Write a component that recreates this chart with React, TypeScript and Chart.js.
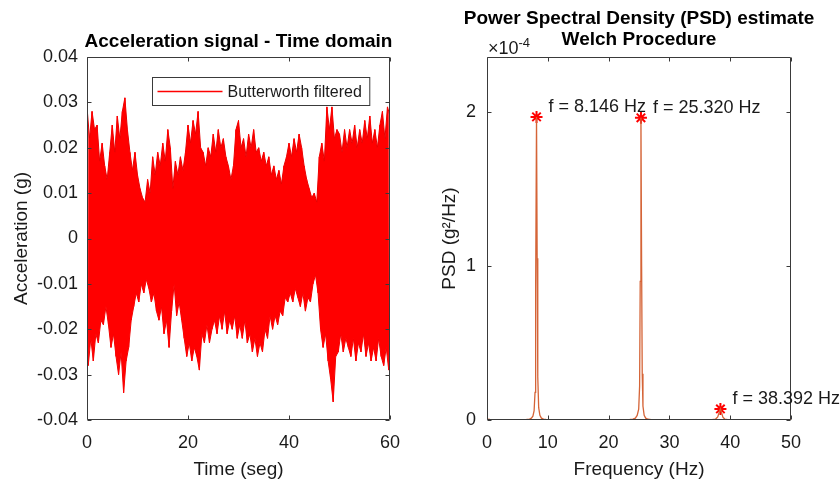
import React, { useEffect, useRef } from 'react';
import { Chart, registerables } from 'chart.js';

Chart.register(...registerables);

const FONT = "'Liberation Sans', Arial, Helvetica, sans-serif";
const TEXT = '#1a1a1a';
const AXIS = '#3a3a3a';

// ---- Time-domain signal: alternating local maxima / minima ----
const signalStep = 0.25; // s between a maximum and the next minimum
const upperPeaks = [
  0.029, 0.022, 0.028, 0.024, 0.025, 0.017, 0.021, 0.016, 0.013, 0.019, // 0 - 4.5 s
  0.025, 0.019, 0.027, 0.022, 0.028, 0.031, 0.024, 0.019, 0.015, 0.019, // 5 - 9.5
  0.014, 0.011, 0.009, 0.008, 0.013, 0.010, 0.018, 0.014, 0.019, 0.016, // 10 - 14.5
  0.021, 0.017, 0.024, 0.020, 0.011, 0.017, 0.014, 0.018, 0.015, 0.019, // 15 - 19.5
  0.025, 0.021, 0.026, 0.023, 0.028, 0.020, 0.019, 0.016, 0.020, 0.018, // 20 - 24.5
  0.023, 0.019, 0.024, 0.020, 0.022, 0.018, 0.016, 0.013, 0.016, 0.024, // 25 - 29.5
  0.026, 0.020, 0.022, 0.018, 0.023, 0.020, 0.024, 0.019, 0.020, 0.017, // 30 - 34.5
  0.019, 0.016, 0.018, 0.014, 0.016, 0.013, 0.015, 0.012, 0.016, 0.018, // 35 - 39.5
  0.021, 0.018, 0.022, 0.019, 0.023, 0.020, 0.016, 0.013, 0.011, 0.009, // 40 - 44.5
  0.010, 0.008, 0.018, 0.021, 0.017, 0.029, 0.024, 0.029, 0.022, 0.024, // 45 - 49.5
  0.023, 0.019, 0.024, 0.020, 0.024, 0.021, 0.025, 0.020, 0.024, 0.021, // 50 - 54.5
  0.026, 0.022, 0.027, 0.021, 0.024, 0.020, 0.025, 0.028, 0.022, 0.029, // 55 - 59.5
  0.027, // 60
];
const lowerPeaks = [
  -0.028, -0.022, -0.027, -0.021, -0.023, -0.018, -0.019, -0.015, -0.019, -0.024,
  -0.021, -0.026, -0.030, -0.025, -0.034, -0.027, -0.024, -0.018, -0.015, -0.012, // 0.25 - 9.75 s
  -0.014, -0.010, -0.012, -0.009, -0.011, -0.014, -0.012, -0.016, -0.018, -0.015,
  -0.021, -0.018, -0.024, -0.016, -0.010, -0.017, -0.014, -0.018, -0.022, -0.026, // 10.25 - 19.75
  -0.023, -0.027, -0.024, -0.026, -0.029, -0.021, -0.023, -0.019, -0.023, -0.020,
  -0.018, -0.021, -0.017, -0.020, -0.016, -0.021, -0.018, -0.020, -0.017, -0.022, // 20.25 - 29.75
  -0.019, -0.022, -0.018, -0.023, -0.021, -0.025, -0.022, -0.026, -0.023, -0.025,
  -0.020, -0.022, -0.017, -0.020, -0.017, -0.019, -0.016, -0.017, -0.013, -0.014, // 30.25 - 39.75
  -0.012, -0.014, -0.011, -0.013, -0.015, -0.012, -0.016, -0.013, -0.014, -0.010,
  -0.008, -0.012, -0.020, -0.024, -0.021, -0.027, -0.031, -0.036, -0.026, -0.025, // 40.25 - 49.75
  -0.021, -0.025, -0.022, -0.024, -0.026, -0.022, -0.027, -0.023, -0.025, -0.021,
  -0.026, -0.023, -0.027, -0.024, -0.027, -0.022, -0.026, -0.028, -0.024, -0.029, // 50.25 - 59.75
];
const timeTicks = [0, 20, 40, 60];
const accelTicks = [-0.04, -0.03, -0.02, -0.01, 0, 0.01, 0.02, 0.03, 0.04];

// ---- Welch PSD (values in units of 1e-4 g^2/Hz) ----
const freqHz = [
  0, 0.5, 1, 1.5, 2, 3, 4, 5, 6, 6.5,
  7, 7.3, 7.55, 7.75, 7.9, 8.0, 8.146, 8.25, 8.35, 8.5,
  8.7, 8.95, 9.3, 9.7, 10.5, 11.5, 12.5, 13.5, 14.5, 15.5,
  16.5, 17.5, 18.5, 19.5, 20.5, 21.5, 22.5, 23.5, 24.0, 24.4,
  24.7, 24.95, 25.1, 25.2, 25.32, 25.43, 25.53, 25.65, 25.85, 26.1,
  26.5, 27, 28, 29, 30, 31, 32, 33, 34, 35,
  36, 37, 37.6, 37.95, 38.2, 38.392, 38.6, 38.8, 39.1, 39.6,
  40.5, 41.5, 42.5, 43.5, 44.5, 45.5, 46.5, 47.5, 48.5, 49.5,
  50,
];
const psdE4 = [
  0.006, 0.004, 0.003, 0.002, 0.003, 0.002, 0.003, 0.002, 0.003, 0.004,
  0.006, 0.012, 0.025, 0.06, 0.18, 0.85, 1.968, 1.05, 0.28, 0.08,
  0.03, 0.012, 0.006, 0.004, 0.003, 0.002, 0.003, 0.002, 0.003, 0.002,
  0.003, 0.002, 0.003, 0.002, 0.003, 0.002, 0.003, 0.004, 0.006, 0.012,
  0.03, 0.07, 0.22, 0.9, 1.962, 1.0, 0.3, 0.09, 0.03, 0.012,
  0.005, 0.003, 0.002, 0.003, 0.002, 0.003, 0.002, 0.003, 0.002, 0.003,
  0.002, 0.003, 0.006, 0.02, 0.05, 0.072, 0.045, 0.018, 0.006, 0.003,
  0.002, 0.003, 0.002, 0.003, 0.002, 0.003, 0.002, 0.003, 0.002, 0.003,
  0.002,
];
const peakFreqs = [8.146, 25.32, 38.392];
const peakPsdE4 = [1.968, 1.962, 0.072];
const freqTicks = [0, 10, 20, 30, 40, 50];
const psdTicks = [0, 1, 2];

const leftTitle = ['Acceleration signal - Time domain'];
const rightTitle = ['Power Spectral Density (PSD) estimate', 'Welch Procedure'];

const font = (size: number, weight: any = 'normal') => ({ family: FONT, size, weight, lineHeight: 1.2 });

const framePlugin = {
  id: 'frame',
  afterDatasetsDraw(chart: any) {
    const { ctx, chartArea: a, scales } = chart;
    const L = Math.round(a.left) + 0.5, R = Math.round(a.right) - 0.5;
    const T = Math.round(a.top) + 0.5, B = Math.round(a.bottom) - 0.5;
    const len = 4;
    ctx.save();
    ctx.strokeStyle = AXIS;
    ctx.lineWidth = 1;
    ctx.beginPath();
    ctx.rect(L, T, R - L, B - T);
    scales.x.ticks.forEach((t: any) => {
      const x = Math.round(scales.x.getPixelForValue(t.value)) + 0.5;
      ctx.moveTo(x, B); ctx.lineTo(x, B - len);
      ctx.moveTo(x, T); ctx.lineTo(x, T + len);
    });
    scales.y.ticks.forEach((t: any) => {
      const y = Math.round(scales.y.getPixelForValue(t.value)) + 0.5;
      ctx.moveTo(L, y); ctx.lineTo(L + len, y);
      ctx.moveTo(R, y); ctx.lineTo(R - len, y);
    });
    ctx.stroke();
    ctx.restore();
  },
};

// Title centred over the plot box (MATLAB style)
const axesTitlePlugin = {
  id: 'axesTitle',
  afterDraw(chart: any, _args: any, opts: any) {
    const { ctx, chartArea: a } = chart;
    const lines: string[] = opts.lines || [];
    const gap = opts.gap ?? 15;
    const spacing = opts.spacing ?? 22;
    ctx.save();
    ctx.fillStyle = '#000';
    ctx.textAlign = 'center';
    ctx.textBaseline = 'middle';
    ctx.font = `bold 19px ${FONT}`;
    const cx = (a.left + a.right) / 2;
    const lastY = a.top - gap;
    lines.forEach((ln, i) => {
      ctx.fillText(ln, cx, lastY - (lines.length - 1 - i) * spacing);
    });
    ctx.restore();
  },
};

const legendPlugin = {
  id: 'boxLegend',
  afterDraw(chart: any) {
    const { ctx, chartArea: a } = chart;
    const ds = chart.data.datasets[0];
    ctx.save();
    ctx.font = `16px ${FONT}`;
    const tw = ctx.measureText(ds.label).width;
    const w = 5 + 65 + 5 + tw + 8;
    const h = 28;
    const x1 = Math.round(a.right - 21 - w) + 0.5;
    const y1 = Math.round(a.top + 20) + 0.5;
    ctx.fillStyle = '#fff';
    ctx.fillRect(x1, y1, w, h);
    ctx.strokeStyle = AXIS;
    ctx.lineWidth = 1;
    ctx.strokeRect(x1, y1, w, h);
    ctx.strokeStyle = '#ff0000';
    ctx.lineWidth = 1.5;
    ctx.beginPath();
    ctx.moveTo(x1 + 5, y1 + h / 2);
    ctx.lineTo(x1 + 70, y1 + h / 2);
    ctx.stroke();
    ctx.fillStyle = TEXT;
    ctx.textBaseline = 'middle';
    ctx.textAlign = 'left';
    ctx.fillText(ds.label, x1 + 75, y1 + h / 2 + 1);
    ctx.restore();
  },
};

const peakLabelPlugin = {
  id: 'peakLabels',
  afterDraw(chart: any) {
    const { ctx, scales, chartArea: a } = chart;
    ctx.save();
    ctx.fillStyle = TEXT;
    ctx.textAlign = 'left';
    ctx.textBaseline = 'middle';
    ctx.font = `18px ${FONT}`;
    peakFreqs.forEach((f, i) => {
      const x = scales.x.getPixelForValue(f) + 12;
      const y = scales.y.getPixelForValue(peakPsdE4[i]) - 10;
      ctx.fillText(`f = ${f.toFixed(3)} Hz`, x, y);
    });
    // exponent multiplier
    ctx.font = `18px ${FONT}`;
    const base = '\u00d710';
    ctx.fillText(base, a.left + 1, a.top - 8);
    const bw = ctx.measureText(base).width;
    ctx.font = `13px ${FONT}`;
    ctx.fillText('-4', a.left + 1 + bw, a.top - 14);
    ctx.restore();
  },
};

function TimeChart() {
  const ref = useRef<HTMLCanvasElement>(null);
  useEffect(() => {
    const upperPts = upperPeaks.map((v, i) => ({ x: 2 * i * signalStep, y: v }));
    const lowerPts = lowerPeaks.map((v, i) => ({ x: (2 * i + 1) * signalStep, y: v }));
    const zigzag: { x: number; y: number }[] = [];
    for (let i = 0; i < upperPts.length; i++) {
      zigzag.push(upperPts[i]);
      if (i < lowerPts.length) zigzag.push(lowerPts[i]);
    }
    const chart = new Chart(ref.current!, {
      type: 'line',
      data: {
        datasets: [
          {
            label: 'Butterworth filtered',
            data: zigzag,
            borderColor: '#ff0000',
            borderWidth: 1,
            pointRadius: 0,
            tension: 0,
            fill: false,
          },
          {
            label: 'upper',
            data: upperPts,
            borderColor: '#e80000',
            backgroundColor: '#ff0000',
            borderWidth: 1,
            pointRadius: 0,
            tension: 0,
            fill: '+1',
          },
          {
            label: 'lower',
            data: lowerPts,
            borderColor: '#e80000',
            borderWidth: 1,
            pointRadius: 0,
            tension: 0,
            fill: false,
          },
        ],
      },
      options: {
        animation: false,
        responsive: false,
        devicePixelRatio: 1,
        layout: { padding: { left: 0, right: 30, top: 57, bottom: 0 } },
        plugins: {
          legend: { display: false },
          tooltip: { enabled: false },
          title: { display: false },
          axesTitle: { lines: leftTitle, gap: 15, spacing: 22 },
        },
        scales: {
          x: {
            type: 'linear',
            min: 0,
            max: 60,
            afterBuildTicks: (s: any) => { s.ticks = timeTicks.map((v) => ({ value: v })); },
            afterFit: (s: any) => { s.height = 63; },
            ticks: { font: font(18), color: TEXT, padding: 12, maxRotation: 0, autoSkip: false, callback: (v: any) => String(v) },
            grid: { display: false, drawTicks: false },
            border: { display: false },
            title: { display: true, text: 'Time (seg)', font: font(19), color: TEXT, padding: { top: 0, bottom: 1.6 } },
          },
          y: {
            type: 'linear',
            min: -0.04,
            max: 0.04,
            afterBuildTicks: (s: any) => { s.ticks = accelTicks.map((v) => ({ value: v })); },
            afterFit: (s: any) => { s.width = 87; },
            ticks: {
              font: font(18),
              color: TEXT,
              padding: 9,
              autoSkip: false,
              callback: (v: any) => {
                const r = Math.round(v * 100) / 100;
                return r === 0 ? '0' : r.toFixed(2);
              },
            },
            grid: { display: false, drawTicks: false },
            border: { display: false },
            title: { display: true, text: 'Acceleration (g)', font: font(19), color: TEXT, padding: { top: 10.6, bottom: 0 } },
          },
        },
      } as any,
      plugins: [framePlugin, legendPlugin, axesTitlePlugin],
    });
    return () => chart.destroy();
  }, []);
  return <canvas ref={ref} width={420} height={483} style={{ position: 'absolute', left: 0, top: 0, width: 420, height: 483 }} />;
}

function PsdChart() {
  const ref = useRef<HTMLCanvasElement>(null);
  useEffect(() => {
    const chart = new Chart(ref.current!, {
      type: 'line',
      data: {
        datasets: [
          {
            label: 'PSD',
            data: freqHz.map((f, i) => ({ x: f, y: psdE4[i] })),
            borderColor: 'rgb(213,100,55)',
            borderWidth: 1.3,
            pointRadius: 0,
            tension: 0,
            fill: false,
          },
          {
            label: 'Peaks',
            data: peakFreqs.map((f, i) => ({ x: f, y: peakPsdE4[i] })),
            showLine: false,
            pointStyle: 'star',
            pointRadius: 6,
            borderColor: '#ff0000',
            backgroundColor: '#ff0000',
            pointBorderWidth: 2,
            borderWidth: 2,
          },
        ],
      },
      options: {
        animation: false,
        responsive: false,
        devicePixelRatio: 1,
        layout: { padding: { left: 0, right: 49, top: 57, bottom: 0 } },
        plugins: {
          legend: { display: false },
          tooltip: { enabled: false },
          title: { display: false },
          axesTitle: { lines: rightTitle, gap: 17, spacing: 21.7 },
        },
        scales: {
          x: {
            type: 'linear',
            min: 0,
            max: 50,
            afterBuildTicks: (s: any) => { s.ticks = freqTicks.map((v) => ({ value: v })); },
            afterFit: (s: any) => { s.height = 63; },
            ticks: { font: font(18), color: TEXT, padding: 12, maxRotation: 0, autoSkip: false, callback: (v: any) => String(v) },
            grid: { display: false, drawTicks: false },
            border: { display: false },
            title: { display: true, text: 'Frequency (Hz)', font: font(19), color: TEXT, padding: { top: 0, bottom: 1.6 } },
          },
          y: {
            type: 'linear',
            min: 0,
            max: 2.357,
            afterBuildTicks: (s: any) => { s.ticks = psdTicks.map((v) => ({ value: v })); },
            afterFit: (s: any) => { s.width = 67; },
            ticks: { font: font(18), color: TEXT, padding: 11, autoSkip: false, callback: (v: any) => String(Math.round(v)) },
            grid: { display: false, drawTicks: false },
            border: { display: false },
            title: { display: true, text: 'PSD (g\u00b2/Hz)', font: font(19), color: TEXT, padding: { top: 18.6, bottom: 0 } },
          },
        },
      } as any,
      plugins: [framePlugin, peakLabelPlugin, axesTitlePlugin],
    });
    return () => chart.destroy();
  }, []);
  return <canvas ref={ref} width={420} height={483} style={{ position: 'absolute', left: 420, top: 0, width: 420, height: 483 }} />;
}

export default function App() {
  return (
    <div style={{ position: 'absolute', left: 0, top: 0, width: 840, height: 483, background: '#fff', overflow: 'hidden' }}>
      <TimeChart />
      <PsdChart />
    </div>
  );
}
